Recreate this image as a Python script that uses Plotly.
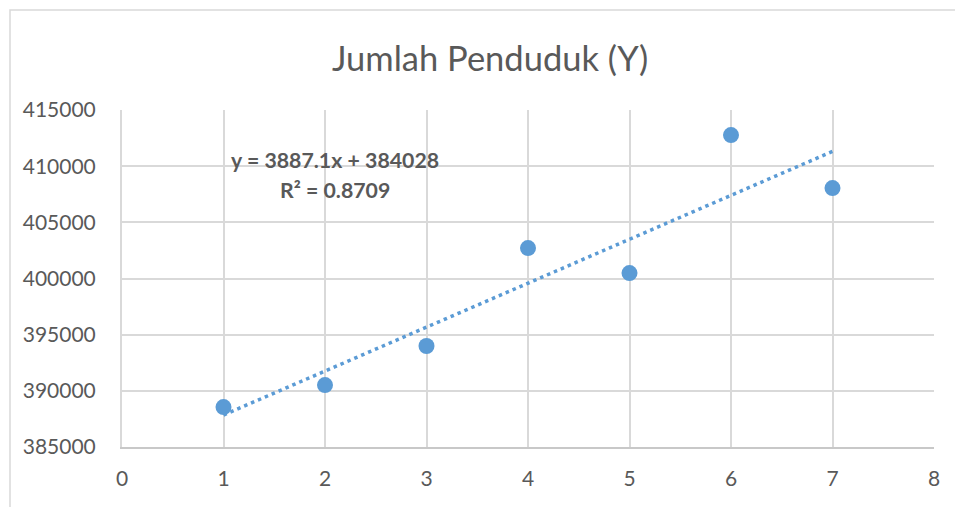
import numpy as np
import plotly.graph_objects as go

# Data
x_vals = [1, 2, 3, 4, 5, 6, 7]
y_vals = [388550, 390510, 393990, 402710, 400480, 412770, 408050]
x_ticks = [0, 1, 2, 3, 4, 5, 6, 7, 8]
y_ticks = [385000, 390000, 395000, 400000, 405000, 410000, 415000]
title_text = "Jumlah Penduduk (Y)"
eq_line1 = "y = 3887.1x + 384028"
eq_line2 = "R² = 0.8709"

slope, intercept = np.polyfit(x_vals, y_vals, 1)
trend_x = [min(x_vals), max(x_vals)]
trend_y = [slope * v + intercept for v in trend_x]

W, H = 963, 507
OFF = 8  # default body margin of the html page
# target screen positions of plot area
SL, SR, ST, SB = 122, 934, 110, 447
L = SL - OFF
T = ST - OFF
R = W - (SR - OFF)
B = H - (SB - OFF)
FONT = "Lato"
GRAY = "#595959"
BLUE = "#5b9bd5"

fig = go.Figure()
fig.add_trace(go.Scatter(
    x=x_vals, y=y_vals, mode="markers",
    marker=dict(color=BLUE, size=16, line=dict(width=0)),
    showlegend=False, hoverinfo="skip"))
fig.add_trace(go.Scatter(
    x=trend_x, y=trend_y, mode="lines",
    line=dict(color=BLUE, width=3.5, dash="3.5px,4px"),
    showlegend=False, hoverinfo="skip"))

pw = SR - SL
ph = SB - ST
def sx(p):  # screen px -> paper x
    return (p - SL) / pw
def sy(p):  # screen px -> paper y
    return (SB - p) / ph

fig.add_shape(type="rect", xref="paper", yref="paper",
              x0=sx(10), x1=sx(1000), y0=sy(540), y1=sy(10),
              line=dict(color="#d9d9d9", width=1.5), layer="below")

for txt, yy in [(eq_line1, 160), (eq_line2, 190)]:
    fig.add_annotation(x=sx(334.5), y=sy(yy), xref="paper", yref="paper", text=txt,
                       showarrow=False, xanchor="center", yanchor="middle",
                       font=dict(family=FONT, size=21.3, color=GRAY, weight="bold"))

fig.add_annotation(x=sx(490), y=sy(57), xref="paper", yref="paper", text=title_text,
                   showarrow=False, xanchor="center", yanchor="middle",
                   font=dict(family=FONT, size=34.5, color=GRAY))

fig.update_layout(
    width=W, height=H,
    margin=dict(l=L, r=R, t=T, b=B),
    paper_bgcolor="white", plot_bgcolor="white",
    xaxis=dict(range=[0, 8], tickvals=x_ticks, ticktext=[str(v) for v in x_ticks],
               showgrid=True, gridcolor="#d9d9d9", gridwidth=2,
               showline=True, linecolor="#c8c8c8", linewidth=2, mirror=False,
               zeroline=False, ticks="", ticklabelstandoff=12,
               tickfont=dict(family=FONT, size=21, color=GRAY), fixedrange=True),
    yaxis=dict(range=[385000, 415000], tickvals=y_ticks, ticktext=[str(v) for v in y_ticks],
               showgrid=True, gridcolor="#d9d9d9", gridwidth=2,
               showline=True, linecolor="#d9d9d9", linewidth=2,
               zeroline=False, ticks="", ticklabelstandoff=20,
               tickfont=dict(family=FONT, size=21, color=GRAY), fixedrange=True),
)

fig.write_html("out.html")
